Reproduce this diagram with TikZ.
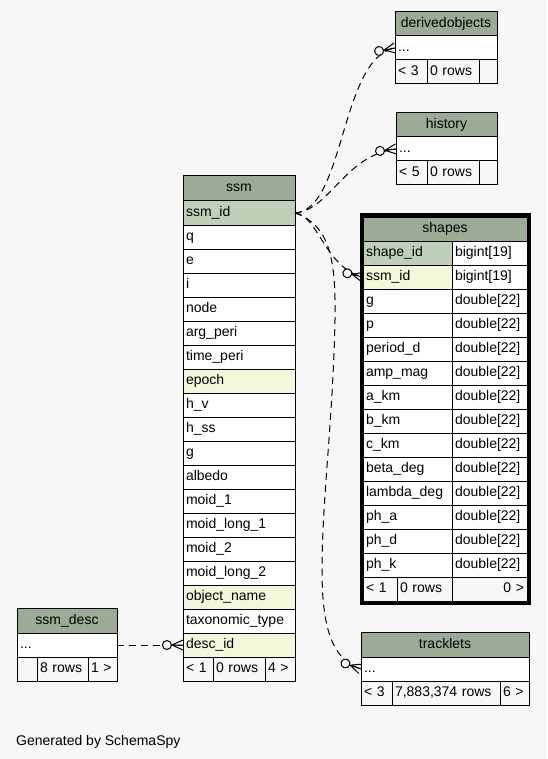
\documentclass[tikz,border=0pt]{standalone}
\usepackage{fontspec}
\setmainfont{Liberation Sans}
\usepackage{tikz}
\usetikzlibrary{positioning,fit,decorations.markings}
\definecolor{bgcol}{HTML}{F7F7F7}
\definecolor{hdrcol}{HTML}{9BAB96}
\definecolor{pkcol}{HTML}{BED1B8}
\definecolor{idxcol}{HTML}{F4F7DA}
\newcommand\tblfont{\fontsize{14pt}{16pt}\selectfont}
\tikzset{
  cell/.style={draw, line width=1pt, outer sep=0pt, inner xsep=3pt, inner ysep=0pt,
    anchor=north west, minimum height=24pt, text height=10pt, text depth=3pt, font=\tblfont},
  hdr/.style={cell, fill=hdrcol, align=center},
  fld/.style={cell, fill=white, align=left},
  foot/.style={cell, fill=bgcol, align=left},
  zeromany/.style={line width=1pt, dash pattern=on 7pt off 5pt,
    postaction={decorate, decoration={markings, mark=at position 0.999 with {
      \draw[solid, line width=1pt] (-11pt,0pt) -- (0pt,5pt) (-11pt,0pt) -- (0pt,0pt) (-11pt,0pt) -- (0pt,-5pt);
      \draw[solid, line width=1pt, fill=bgcol] (-16pt,0pt) circle (4.5pt);}}}}
}
\begin{document}
\begin{tikzpicture}[x=1pt,y=-1pt]
  \path[use as bounding box, fill=bgcol] (0,0) rectangle (547,759);

  % derivedobjects
  \node[hdr, text width=96pt] (do-hdr) at (395,12) {derivedobjects};
  \node[fld, text width=96pt] (do-row) at (395,36) {...};
  \node[foot, text width=26pt] (do-f1) at (395,60) {< 3};
  \node[foot, text width=46pt] (do-f2) at (427,60) {0 rows};
  \node[foot, text width=12pt] (do-f3) at (479,60) {};

  % history
  \node[hdr, text width=95pt] (hist-hdr) at (396,113) {history};
  \node[fld, text width=95pt] (hist-row) at (396,137) {...};
  \node[foot, text width=25pt] (hist-f1) at (396,161) {< 5};
  \node[foot, text width=46pt] (hist-f2) at (427,161) {0 rows};
  \node[foot, text width=12pt] (hist-f3) at (479,161) {};

  % ssm
  \node[hdr, text width=106pt, minimum height=25pt] (ssm-hdr) at (183,176) {ssm};
  \foreach \f/\c [count=\i from 0] in {ssm\_id/pkcol, q/white, e/white, i/white, node/white,
      arg\_peri/white, time\_peri/white, epoch/idxcol, h\_v/white, h\_ss/white, g/white,
      albedo/white, moid\_1/white, moid\_long\_1/white, moid\_2/white, moid\_long\_2/white,
      object\_name/idxcol, taxonomic\_type/white, desc\_id/idxcol}
    \node[fld, fill=\c, text width=106pt] (ssm-\i) at (183,{201+24*\i}) {\f};
  \node[foot, text width=24pt] (ssm-f1) at (183,657) {< 1};
  \node[foot, text width=46pt] (ssm-f2) at (213,657) {0 rows};
  \node[foot, text width=24pt] (ssm-f3) at (265,657) {4 >};

  % shapes
  \node[hdr, text width=158pt] (shp-hdr) at (363,217) {shapes};
  \foreach \f/\t/\c [count=\i from 0] in {shape\_id/bigint[19]/pkcol, ssm\_id/bigint[19]/idxcol,
      g/double[22]/white, p/double[22]/white, period\_d/double[22]/white,
      amp\_mag/double[22]/white, a\_km/double[22]/white, b\_km/double[22]/white,
      c\_km/double[22]/white, beta\_deg/double[22]/white, lambda\_deg/double[22]/white,
      ph\_a/double[22]/white, ph\_d/double[22]/white, ph\_k/double[22]/white}
  {
    \node[fld, fill=\c, text width=83pt] (shp-n\i) at (363,{241+24*\i}) {\f};
    \node[fld, text width=69pt] (shp-t\i) at (452,{241+24*\i}) {\t};
  }
  \node[foot, text width=28pt] (shp-f1) at (363,577) {< 1};
  \node[foot, text width=49pt] (shp-f2) at (397,577) {0 rows};
  \node[foot, text width=69pt, align=right] (shp-f3) at (452,577) {0 >};
  \node[draw, line width=3pt, inner sep=2pt, fit=(shp-hdr)(shp-f3)] (shp-box) {};

  % ssm_desc
  \node[hdr, text width=94pt, minimum height=25pt] (desc-hdr) at (17,608) {ssm\_desc};
  \node[fld, text width=94pt] (desc-row) at (17,633) {...};
  \node[foot, text width=14pt] (desc-f1) at (17,657) {};
  \node[foot, text width=45pt] (desc-f2) at (37,657) {8 rows};
  \node[foot, text width=23pt] (desc-f3) at (88,657) {1 >};

  % tracklets
  \node[hdr, text width=162pt, minimum height=25pt] (trk-hdr) at (361,632) {tracklets};
  \node[fld, text width=162pt] (trk-row) at (361,657) {...};
  \node[foot, text width=25pt] (trk-f1) at (361,681) {< 3};
  \node[foot, text width=102pt] (trk-f2) at (392,681) {7,883,374 rows};
  \node[foot, text width=23pt] (trk-f3) at (500,681) {6 >};

  % relationships
  \draw[zeromany] (ssm-0.east) .. controls (345,210) and (340,58) .. (do-row.west);
  \draw[zeromany] (ssm-0.east) .. controls (330,210) and (345,155) .. (hist-row.west);
  \draw[zeromany] (ssm-0.east) .. controls (318,215) and (325,268) .. (shp-n1.west);
  \draw[zeromany] (ssm-0.east) .. controls (330,225) and (336,260) .. (335,320)
    .. controls (333,420) and (322,500) .. (322,570)
    .. controls (322,635) and (335,660) .. (trk-row.west);
  \draw[zeromany] (desc-row.east) -- (ssm-18.west);

  \node[anchor=base west, inner sep=0pt, font=\tblfont] (credit) at (16,745) {Generated by SchemaSpy};
\end{tikzpicture}
\end{document}
